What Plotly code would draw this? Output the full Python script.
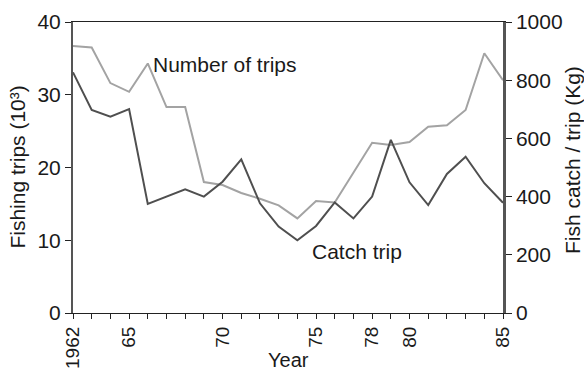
import plotly.graph_objects as go

# Annual series, 1962-1985
years = list(range(1962, 1986))
number_of_trips = [36.7, 36.5, 31.6, 30.4, 34.3, 28.3, 28.3, 18.0, 17.6, 16.5,
                   15.7, 14.8, 13.0, 15.4, 15.2, 19.3, 23.4, 23.1, 23.5, 25.6,
                   25.8, 27.9, 35.7, 32.0]  # thousands of trips
catch_per_trip = [827, 698, 675, 701, 375, 400, 425, 400, 451, 528,
                  377, 297, 250, 299, 380, 325, 400, 595, 449, 371,
                  478, 537, 446, 379]  # kg per trip

labelled_years = {1962: "1962", 1965: "65", 1970: "70", 1975: "75",
                  1978: "78", 1980: "80", 1985: "85"}
x_ticktext = [labelled_years.get(y, "") for y in years]

FONT = "Liberation Sans, Arial, Helvetica, sans-serif"
AXIS_COLOR = "#555555"
FS = 21

fig = go.Figure()
fig.add_trace(go.Scatter(x=years, y=number_of_trips, mode="lines",
                         line=dict(color="#a3a3a3", width=2),
                         name="Number of trips", yaxis="y"))
fig.add_trace(go.Scatter(x=years, y=catch_per_trip, mode="lines",
                         line=dict(color="#4f4f4f", width=2),
                         name="Catch trip", yaxis="y2"))

fig.update_layout(
    width=584, height=372,
    margin=dict(l=73, r=81, t=22, b=59),
    paper_bgcolor="white", plot_bgcolor="white",
    showlegend=False,
    font=dict(family=FONT, size=FS, color="#1a1a1a"),
    xaxis=dict(range=[1962, 1985], tickvals=years, ticktext=x_ticktext,
               tickangle=-90, ticks="outside", ticklen=5, tickwidth=1.2,
               tickcolor="#222222", showline=True, linecolor="#222222",
               linewidth=1.2, mirror=True, showgrid=False, zeroline=False,
               automargin=False, tickfont=dict(size=19)),
    yaxis=dict(range=[0, 40], tickvals=[0, 10, 20, 30, 40], ticks="outside",
               ticklen=6, tickwidth=1.2, tickcolor="#222222", showline=True,
               linecolor=AXIS_COLOR, linewidth=2, showgrid=False,
               zeroline=False, automargin=False, tickfont=dict(size=FS)),
    yaxis2=dict(range=[0, 1000], tickvals=[0, 200, 400, 600, 800, 1000],
                overlaying="y", side="right", ticks="outside", ticklen=6,
                tickwidth=1.2, tickcolor="#222222", showline=True,
                linecolor=AXIS_COLOR, linewidth=2.5, showgrid=False,
                zeroline=False, automargin=False, tickfont=dict(size=FS)),
    annotations=[
        # series labels
        dict(x=1970.13, y=34.1, xref="x", yref="y", text="Number of trips",
             showarrow=False, xanchor="center", yanchor="middle"),
        dict(x=1977.19, y=8.5, xref="x", yref="y", text="Catch trip",
             showarrow=False, xanchor="center", yanchor="middle"),
        # axis titles
        dict(x=0.5, y=-0.2027, xref="paper", yref="paper", text="Year",
             showarrow=False, xanchor="center", yanchor="bottom",
             borderpad=0, font=dict(size=20)),
        dict(x=-0.130, y=0.5, xref="paper", yref="paper",
             text="Fishing trips (10³)", textangle=-90, showarrow=False,
             xanchor="center", yanchor="middle"),
        dict(x=1.163, y=0.526, xref="paper", yref="paper",
             text="Fish catch / trip (Kg)", textangle=-90, showarrow=False,
             xanchor="center", yanchor="middle"),
    ],
)

fig.write_html("out.html")
